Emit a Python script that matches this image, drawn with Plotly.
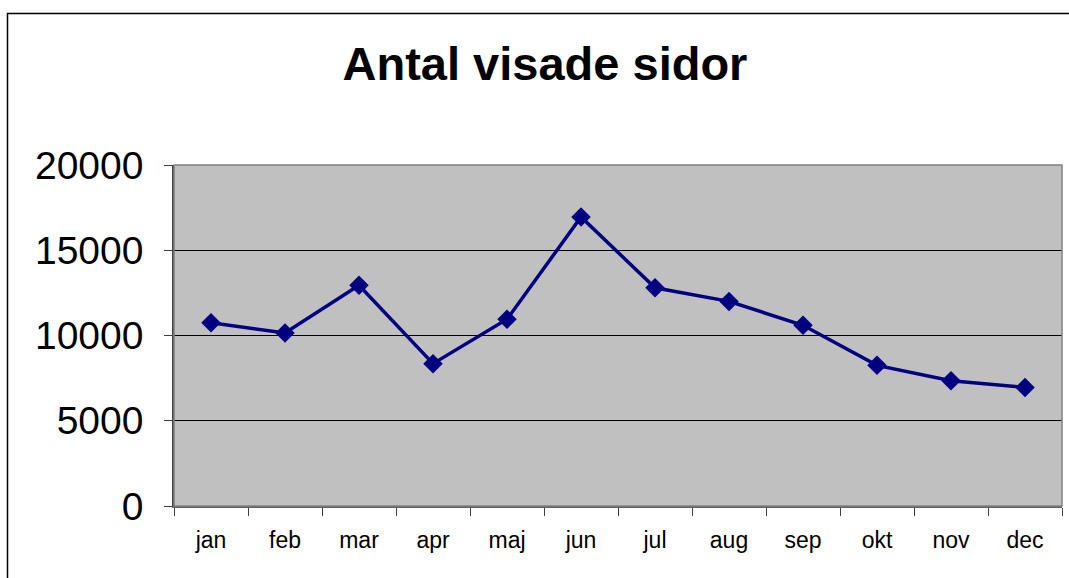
import plotly.graph_objects as go

months = ["jan", "feb", "mar", "apr", "maj", "jun", "jul", "aug", "sep", "okt", "nov", "dec"]
page_views = [10750, 10150, 12950, 8350, 10950, 16950, 12800, 12000, 10600, 8250, 7350, 6950]
y_ticks = [0, 5000, 10000, 15000, 20000]
title_text = "Antal visade sidor"

W, H = 1069, 578
L, R, T, B = 174, 7, 165, 72
pw, ph = W - L - R, H - T - B

def px_x(p):
    return (p - L) / pw

def px_y(p):
    return (H - B - p) / ph

fig = go.Figure()
fig.add_trace(go.Scatter(
    x=months, y=page_views, mode="lines+markers",
    line=dict(color="#000080", width=3.5),
    marker=dict(symbol="diamond", size=15, color="#000080"),
    showlegend=False, hoverinfo="x+y",
))

fig.update_layout(
    width=W, height=H,
    margin=dict(l=L, r=R, t=T, b=B),
    paper_bgcolor="white", plot_bgcolor="#C0C0C0",
    font=dict(family="Liberation Sans, Arial, sans-serif", color="black"),
    title=dict(text="<b>" + title_text + "</b>", xref="container", x=545 / W, xanchor="center",
               yref="container", y=1 - 64 / H, yanchor="middle",
               font=dict(size=47, family="Liberation Sans, Arial, sans-serif", color="black")),
    xaxis=dict(type="category", range=[-0.5, 11.5], tickson="boundaries",
               ticks="outside", ticklen=8, tickcolor="#404040", tickwidth=1,
               showline=True, linecolor="#606060", linewidth=1.5,
               showgrid=False, tickfont=dict(size=23),
               ticklabelstandoff=13, fixedrange=True),
    yaxis=dict(range=[0, 20000], tickvals=y_ticks, ticktext=[str(v) for v in y_ticks],
               ticks="outside", ticklen=8, tickcolor="#404040", tickwidth=1,
               showline=True, linecolor="#404040", linewidth=1.5,
               showgrid=True, gridcolor="black", gridwidth=1,
               zeroline=False, tickfont=dict(size=39),
               ticklabelstandoff=13, fixedrange=True),
)

# plot area border (top and right sides)
fig.add_shape(type="rect", xref="paper", yref="paper", x0=0, y0=0, x1=1, y1=1,
              line=dict(color="#808080", width=1.5), layer="above")
# outer chart border
fig.add_shape(type="rect", xref="paper", yref="paper",
              x0=px_x(7.5), y0=px_y(H + 10), x1=px_x(W + 10), y1=px_y(13.5),
              line=dict(color="black", width=1.5), layer="above")

fig.write_html("out.html", config={"displayModeBar": False},
               post_script="document.body.style.margin='0';document.body.style.padding='0';")
